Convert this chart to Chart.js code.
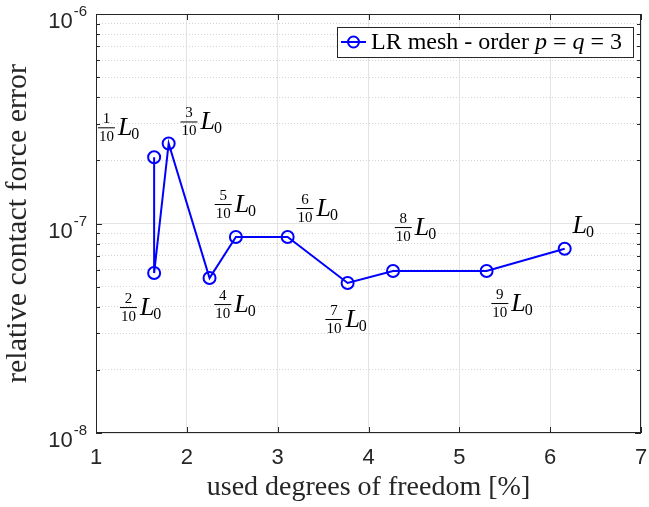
<!DOCTYPE html>
<html lang="en">
<head>
<meta charset="UTF-8">
<title>Relative contact force error</title>
<script src="https://cdn.jsdelivr.net/npm/chart.js"></script>
<style>
  html, body { margin: 0; padding: 0; background: #fff; }
  canvas { display: block; }
</style>
</head>
<body>
<canvas id="errChart" width="649" height="507"></canvas>
<script>
// used degrees of freedom [%]
const dofPercent = [1.64, 1.64, 1.80, 2.25, 2.54, 3.11, 3.77, 4.27, 5.30, 6.16];
// relative contact force error
const forceError = [2.07e-7, 5.8e-8, 2.41e-7, 5.49e-8, 8.62e-8, 8.62e-8, 5.2e-8, 5.93e-8, 5.93e-8, 7.58e-8];
// refinement length as n/10 of L0 for each point (10 -> L0)
const lengthTenths = [1, 2, 3, 4, 5, 6, 7, 8, 9, 10];
const xTicks = [1, 2, 3, 4, 5, 6, 7];
const yMajorTicks = [1e-8, 1e-7, 1e-6];
const yMinorTicks = [2e-8, 3e-8, 4e-8, 5e-8, 6e-8, 7e-8, 8e-8, 9e-8,
                     2e-7, 3e-7, 4e-7, 5e-7, 6e-7, 7e-7, 8e-7, 9e-7];
const yExponents = ['-8', '-7', '-6'];
const seriesName = 'LR mesh - order';

const BLUE = '#0000ff';
const AXIS = '#262626';
const SERIF = '"Liberation Serif", "DejaVu Serif", serif';
const SANS = '"Liberation Sans", Arial, sans-serif';

// where each L0 label sits relative to its point (px)
const labelOffsets = [[-35, -22], [-13, 42], [33, -14], [26, 34], [0, -25],
                      [30, -21], [-1, 44], [23, -36], [26, 40], [19, -16]];

function drawLengthLabel(ctx, cx, base, n) {
  const lFont = 'italic 26px ' + SERIF;
  const subFont = '16px ' + SERIF;
  const fracFont = '15px ' + SERIF;
  ctx.font = lFont;
  const lw = ctx.measureText('L').width;
  ctx.font = subFont;
  const sw = ctx.measureText('0').width;
  let fw = 0;
  if (n < 10) {
    ctx.font = fracFont;
    fw = ctx.measureText('10').width + 2;
  }
  const gap = n < 10 ? 3 : 0;
  let x = cx - (fw + gap + lw + sw) / 2;
  ctx.fillStyle = '#000';
  ctx.textBaseline = 'alphabetic';
  if (n < 10) {
    ctx.font = fracFont;
    ctx.textAlign = 'center';
    ctx.fillText(String(n), x + fw / 2, base - 12);
    ctx.fillText('10', x + fw / 2, base + 6);
    ctx.fillRect(x, base - 8, fw, 1);
    x += fw + gap;
  }
  ctx.textAlign = 'left';
  ctx.font = lFont;
  ctx.fillText('L', x, base);
  ctx.font = subFont;
  ctx.fillText('0', x + lw - 1, base + 4);
}

const decorations = {
  id: 'decorations',
  afterDraw(chart) {
    const {ctx, chartArea: a, scales} = chart;
    const xs = scales.x, ys = scales.y;
    ctx.save();

    // box + inward tick marks
    ctx.strokeStyle = AXIS;
    ctx.lineWidth = 1;
    ctx.strokeRect(a.left + 0.5, a.top + 0.5, a.right - a.left - 1, a.bottom - a.top - 1);
    ctx.beginPath();
    xTicks.forEach(v => {
      const px = Math.round(xs.getPixelForValue(v)) + 0.5;
      ctx.moveTo(px, a.bottom); ctx.lineTo(px, a.bottom - 6);
      ctx.moveTo(px, a.top); ctx.lineTo(px, a.top + 6);
    });
    yMajorTicks.forEach(v => {
      const py = Math.round(ys.getPixelForValue(v)) + 0.5;
      ctx.moveTo(a.left, py); ctx.lineTo(a.left + 6, py);
      ctx.moveTo(a.right, py); ctx.lineTo(a.right - 6, py);
    });
    yMinorTicks.forEach(v => {
      const py = Math.round(ys.getPixelForValue(v)) + 0.5;
      ctx.moveTo(a.left, py); ctx.lineTo(a.left + 4, py);
      ctx.moveTo(a.right, py); ctx.lineTo(a.right - 4, py);
    });
    ctx.stroke();

    // y tick labels 10^n
    ctx.fillStyle = AXIS;
    ctx.textBaseline = 'alphabetic';
    ctx.textAlign = 'left';
    yMajorTicks.forEach((v, i) => {
      const py = ys.getPixelForValue(v);
      ctx.font = '15px ' + SANS;
      const ew = ctx.measureText(yExponents[i]).width;
      ctx.font = '22px ' + SANS;
      const bw = ctx.measureText('10').width;
      const right = a.left - 9;
      ctx.fillText('10', right - ew - bw - 1, py + 14);
      ctx.font = '15px ' + SANS;
      ctx.fillText(yExponents[i], right - ew, py + 2);
    });

    // point labels
    const meta = chart.getDatasetMeta(0);
    meta.data.forEach((pt, i) => {
      const [dx, dy] = labelOffsets[i];
      drawLengthLabel(ctx, pt.x + dx, pt.y + dy, lengthTenths[i]);
    });

    // legend
    const lx = 337, ly = 27, lw = 296, lh = 30;
    ctx.fillStyle = '#fff';
    ctx.fillRect(lx, ly, lw, lh);
    ctx.strokeStyle = AXIS;
    ctx.lineWidth = 1;
    ctx.strokeRect(lx + 0.5, ly + 0.5, lw, lh);
    const my = ly + lh / 2;
    ctx.strokeStyle = BLUE;
    ctx.lineWidth = 2;
    ctx.beginPath();
    ctx.moveTo(lx + 4, my); ctx.lineTo(lx + 29, my);
    ctx.stroke();
    ctx.beginPath();
    ctx.arc(lx + 16.5, my, 5.5, 0, Math.PI * 2);
    ctx.stroke();
    ctx.fillStyle = '#000';
    let tx = lx + 34;
    const ty = ly + 22;
    const parts = [[seriesName + ' ', ''], ['p', 'italic '], [' = ', ''], ['q', 'italic '], [' = 3', '']];
    parts.forEach(([s, st]) => {
      ctx.font = st + '24px ' + SERIF;
      ctx.fillText(s, tx, ty);
      tx += ctx.measureText(s).width;
    });
    ctx.restore();
  }
};

new Chart(document.getElementById('errChart'), {
  type: 'line',
  data: {
    datasets: [{
      label: seriesName,
      data: dofPercent.map((x, i) => ({x: x, y: forceError[i]})),
      borderColor: BLUE,
      borderWidth: 2,
      pointRadius: 6,
      pointBorderWidth: 2,
      pointBorderColor: BLUE,
      pointBackgroundColor: 'rgba(0,0,0,0)',
      tension: 0,
      clip: false
    }]
  },
  options: {
    responsive: false,
    animation: false,
    layout: {padding: {left: 0, right: 7, top: 14, bottom: 0}},
    plugins: {legend: {display: false}, tooltip: {enabled: false}},
    scales: {
      x: {
        type: 'linear', min: 1, max: 7,
        afterBuildTicks: s => { s.ticks = xTicks.map(v => ({value: v})); },
        afterFit: s => { s.height = 74; s.paddingLeft = 0; s.paddingRight = 0; },
        ticks: {font: {family: SANS, size: 22}, color: AXIS, padding: 12},
        grid: {color: '#e3e3e3', drawTicks: false},
        border: {display: false},
        title: {display: true, text: 'used degrees of freedom [%]',
                font: {family: SERIF, size: 28}, color: AXIS, padding: {top: 0, bottom: 3}}
      },
      y: {
        type: 'logarithmic', min: 1e-8, max: 1e-6,
        afterBuildTicks: s => { s.ticks = yMajorTicks.map(v => ({value: v})); },
        afterFit: s => { s.width = 96; s.paddingTop = 0; s.paddingBottom = 0; },
        ticks: {display: false},
        grid: {color: '#e3e3e3', drawTicks: false},
        border: {display: false},
        title: {display: true, text: 'relative contact force error',
                font: {family: SERIF, size: 30}, color: AXIS, padding: {top: 0, bottom: 0}}
      },
      yMinor: {
        type: 'logarithmic', position: 'left', min: 1e-8, max: 1e-6,
        afterBuildTicks: s => { s.ticks = yMinorTicks.map(v => ({value: v})); },
        afterFit: s => { s.width = 0; s.paddingTop = 0; s.paddingBottom = 0; },
        ticks: {display: false},
        grid: {color: '#d3d3d3', drawTicks: false},
        border: {display: false, dash: [1, 2]}
      }
    }
  },
  plugins: [decorations]
});
</script>
</body>
</html>
